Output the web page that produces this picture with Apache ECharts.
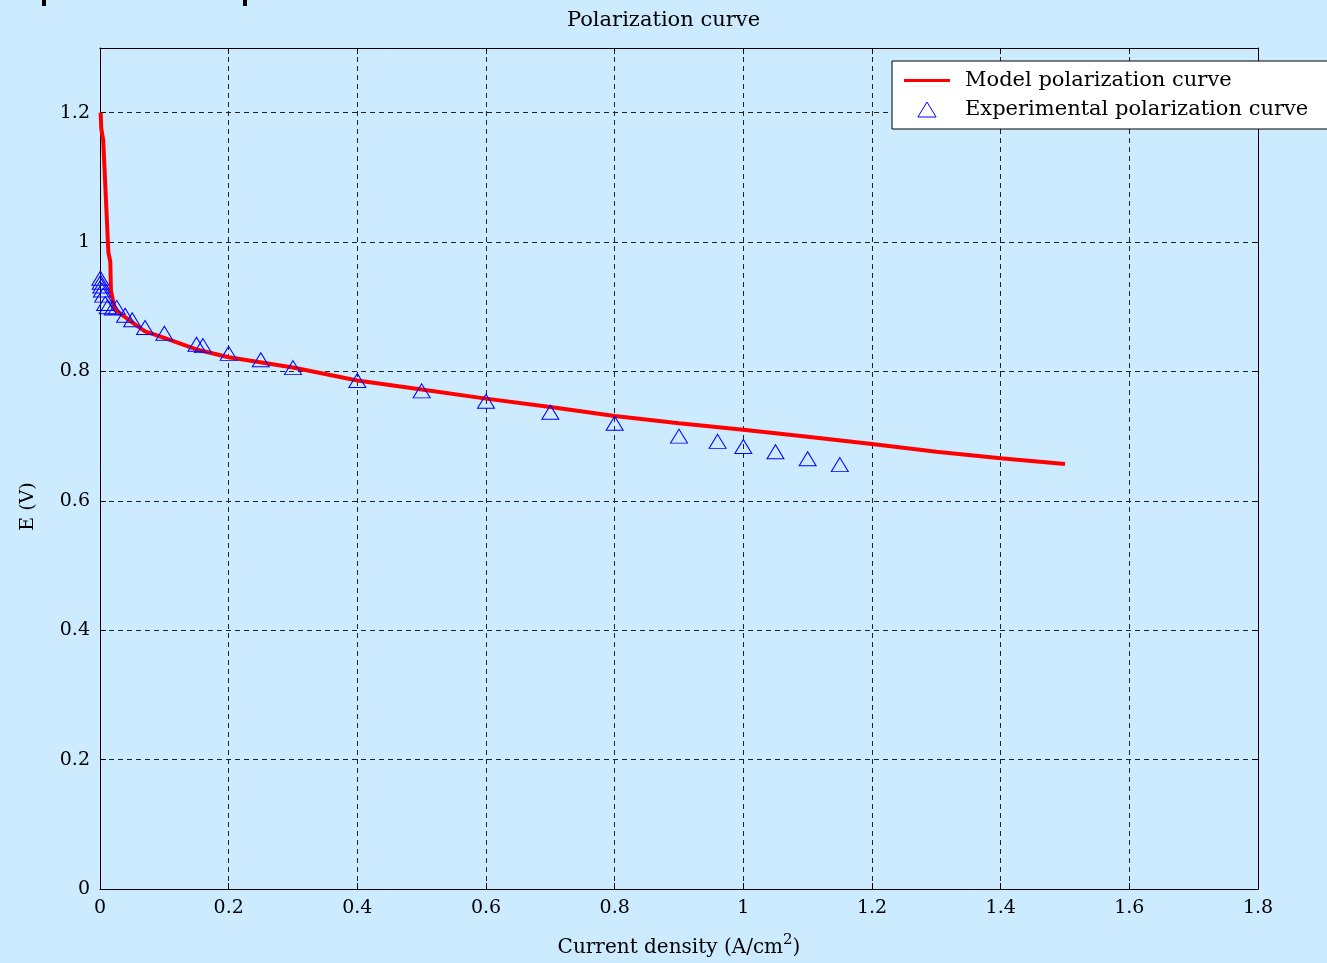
<!DOCTYPE html>
<html>
<head>
<meta charset="utf-8">
<script src="https://cdn.jsdelivr.net/npm/echarts@6/dist/echarts.min.js"></script>
<style>
  html, body { margin: 0; padding: 0; background: #ccebff; }
  #main { width: 1327px; height: 963px; }
</style>
</head>
<body>
<div id="main"></div>
<script>
// model curve (current density, potential)
var modelX = [0.001, 0.002, 0.005, 0.013, 0.016, 0.017, 0.023, 0.05, 0.07, 0.1, 0.15, 0.2, 0.3, 0.4, 0.5, 0.6, 0.7, 0.8, 0.9, 1.0, 1.1, 1.2, 1.3, 1.4, 1.5];
var modelY = [1.2, 1.175, 1.158, 0.984, 0.970, 0.925, 0.896, 0.876, 0.862, 0.852, 0.834, 0.822, 0.806, 0.786, 0.772, 0.758, 0.745, 0.731, 0.720, 0.710, 0.699, 0.688, 0.676, 0.666, 0.657];
// experimental points
var expX = [0.0005, 0.001, 0.002, 0.003, 0.005, 0.008, 0.012, 0.02, 0.026, 0.039, 0.05, 0.07, 0.1, 0.15, 0.16, 0.2, 0.25, 0.3, 0.4, 0.5, 0.6, 0.7, 0.8, 0.9, 0.96, 1.0, 1.05, 1.1, 1.15];
var expY = [0.944, 0.938, 0.932, 0.926, 0.918, 0.905, 0.900, 0.898, 0.899, 0.887, 0.880, 0.868, 0.859, 0.842, 0.840, 0.828, 0.818, 0.806, 0.786, 0.770, 0.754, 0.737, 0.720, 0.700, 0.692, 0.684, 0.676, 0.665, 0.656];

var FONT = 'DejaVu Serif';

function pairs(xs, ys) {
  var out = [];
  for (var i = 0; i < xs.length; i++) out.push([xs[i], ys[i]]);
  return out;
}

var myChart = echarts.init(document.getElementById('main'));

var gridLine = { show: true, lineStyle: { color: '#222', type: [5, 4], width: 1 } };

var option = {
  backgroundColor: '#ccebff',
  animation: false,
  textStyle: { fontFamily: FONT },
  title: {
    text: 'Polarization curve',
    left: 'center',
    top: 5,
    textStyle: { fontFamily: FONT, fontSize: 21, fontWeight: 'normal', color: '#000' }
  },
  graphic: [
    { type: 'rect', shape: { x: 42, y: 0, width: 4, height: 6 }, style: { fill: '#000' } },
    { type: 'rect', shape: { x: 243, y: 0, width: 4, height: 6 }, style: { fill: '#000' } }
  ],
  legend: {
    orient: 'vertical',
    left: 892,
    top: 61,
    backgroundColor: '#fff',
    borderColor: '#000',
    borderWidth: 1,
    padding: [9, 40, 9, 12],
    itemWidth: 46,
    itemHeight: 15,
    itemGap: 8,
    textStyle: { fontFamily: FONT, fontSize: 21, color: '#000', padding: [0, 0, 0, 10] },
    data: [
      {
        name: 'Model polarization curve',
        icon: 'path://M0,0 H46 V3 H0 Z',
        itemStyle: { color: '#ff0000', borderWidth: 0 }
      },
      {
        name: 'Experimental polarization curve',
        icon: 'path://M0,14 L8.5,0 L17,14 Z',
        itemStyle: { color: 'rgba(0,0,0,0)', borderColor: '#0000ff', borderWidth: 1 }
      }
    ]
  },
  grid: { left: 100, right: 69, top: 48, bottom: 73 },
  xAxis: [{
    type: 'value',
    min: 0, max: 1.8, interval: 0.2,
    name: '{a|Current density (A/cm}{s|2}{a|)}',
    nameLocation: 'middle',
    nameGap: 44,
    nameTextStyle: {
      rich: {
        a: { fontFamily: FONT, fontSize: 20, color: '#000', verticalAlign: 'bottom' },
        s: { fontFamily: FONT, fontSize: 15, color: '#000', verticalAlign: 'top', padding: [0, 0, 10, 0] }
      }
    },
    axisLine: { show: true, onZero: false, lineStyle: { color: '#000', width: 1 } },
    axisTick: { show: true, inside: true, length: 6, lineStyle: { color: '#000' } },
    axisLabel: { color: '#000', fontFamily: FONT, fontSize: 19, margin: 10 },
    splitLine: gridLine
  }, {
    type: 'value', position: 'top',
    min: 0, max: 1.8, interval: 0.2,
    axisLine: { show: true, onZero: false, lineStyle: { color: '#000', width: 1 } },
    axisTick: { show: true, inside: true, length: 6, lineStyle: { color: '#000' } },
    axisLabel: { show: false },
    splitLine: { show: false }
  }],
  yAxis: [{
    type: 'value',
    min: 0, max: 1.3, interval: 0.2,
    name: 'E (V)',
    nameLocation: 'middle',
    nameGap: 62,
    nameTextStyle: { fontFamily: FONT, fontSize: 19, color: '#000', padding: [0, 76, 0, 0] },
    axisLine: { show: true, onZero: false, lineStyle: { color: '#000', width: 1 } },
    axisTick: { show: true, inside: true, length: 6, lineStyle: { color: '#000' } },
    axisLabel: { color: '#000', fontFamily: FONT, fontSize: 19, margin: 10, showMaxLabel: false },
    splitLine: gridLine
  }, {
    type: 'value', position: 'right',
    min: 0, max: 1.3, interval: 0.2,
    axisLine: { show: true, onZero: false, lineStyle: { color: '#000', width: 1 } },
    axisTick: { show: true, inside: true, length: 6, lineStyle: { color: '#000' } },
    axisLabel: { show: false },
    splitLine: { show: false }
  }],
  series: [
    {
      name: 'Model polarization curve',
      type: 'line',
      data: pairs(modelX, modelY),
      symbol: 'none',
      smooth: false,
      lineStyle: { color: '#ff0000', width: 4 },
      itemStyle: { color: '#ff0000' },
      z: 3
    },
    {
      name: 'Experimental polarization curve',
      type: 'scatter',
      data: pairs(expX, expY),
      symbol: 'triangle',
      symbolSize: [17, 14],
      itemStyle: { color: 'rgba(0,0,0,0)', borderColor: '#0000ff', borderWidth: 1, opacity: 1 },
      z: 4
    }
  ]
};

myChart.setOption(option);
</script>
</body>
</html>
